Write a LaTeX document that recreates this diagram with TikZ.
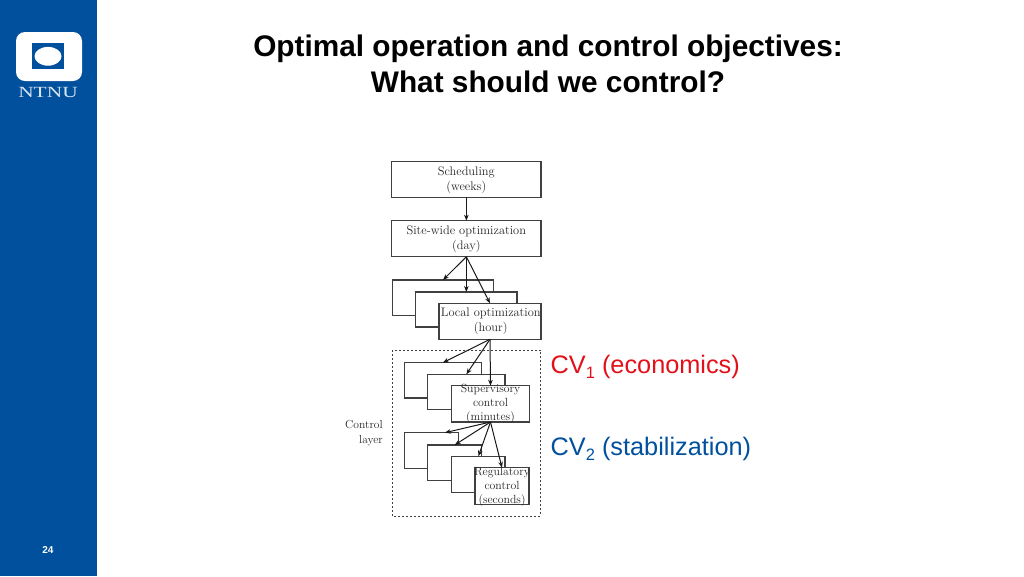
\documentclass[tikz,border=0pt]{standalone}
\usepackage{fontspec}
\usetikzlibrary{arrows.meta}
\setmainfont{Liberation Sans}
\newfontfamily\figfont{Latin Modern Roman}
\newfontfamily\logofont{Liberation Serif}
\definecolor{ntnublue}{HTML}{00509E}
\definecolor{cvred}{HTML}{E3101A}
\definecolor{figgray}{HTML}{404040}
\tikzset{
  layerbox/.style={draw=figgray, line width=1.1pt, fill=white, inner sep=0pt, outer sep=0pt},
  layertext/.style={text=black!85, font=\figfont\fontsize{12.4}{15}\selectfont, align=center, inner sep=0pt},
  titletext/.style={font=\bfseries\fontsize{29.8}{36}\selectfont, align=center, inner sep=0pt},
  cvtext/.style={font=\fontsize{25.3}{28}\selectfont, anchor=base west, inner sep=0pt},
  flow/.style={-{Stealth[length=6pt,width=4.6pt]}, color=black!90, line width=1pt},
}
\newcommand{\cvsub}[1]{\raisebox{-0.22em}{\fontsize{16.5}{18}\selectfont #1}}
\newcommand{\drawboxes}[1] {
  \foreach \name/\xa/\ya/\xb/\yb in #1 {
    \node[layerbox, minimum width={\xb-\xa}, minimum height={\yb-\ya}] (\name)
      at ({(\xa+\xb)/2},{(\ya+\yb)/2}) {};
  }
}
\begin{document}
\begin{tikzpicture}[x=1pt, y=-1pt]
  \useasboundingbox (0,0) rectangle (1024,576);
  % side bar and logo
  \fill[ntnublue] (0,0) rectangle (97,576);
  \fill[white, rounded corners=9pt] (16,32) rectangle (82,81);
  \fill[ntnublue] (32,43) rectangle (64,69);
  \fill[white] (48,56.3) ellipse (13.5 and 9.4);
  \node[text=white!85!ntnublue, font=\logofont\fontsize{15.5}{16}\selectfont, xscale=1.38, inner sep=0pt] (logo) at (48,92) {NTNU};
  \node[text=white, font=\bfseries\fontsize{10}{12}\selectfont, inner sep=0pt] (pagenum) at (48,549.5) {24};

  \node[titletext] (title) at (548,63.5) {Optimal operation and control objectives:\\What should we control?};

  % stacks of layers, back to front
  \draw[figgray, dash pattern=on 2pt off 2pt, line width=1pt] (392.3,350) rectangle (540.7,516);
  \drawboxes{{sched/391.7/161.3/541/197.3, site/391.7/220.7/541/256.7}}
  \drawboxes{{locala/392.3/280/493.7/315.3, localb/415.7/292/517/327, localc/439/303.3/541/339.3}}
  \drawboxes{{supa/404.3/362.7/481.3/398, supb/427.7/374.3/505/409.7, supc/451.7/385.7/529.3/422}}
  \drawboxes{{rega/404.3/432.7/458.3/468.7, regb/427.7/445/481.7/480.5, regc/451.7/456.3/505/492.3, regd/475/467.7/529/504.3}}

  \node[layertext] (schedtext) at (466.3,180) {Scheduling\\(weeks)};
  \node[layertext] (sitetext) at (466.3,239.5) {Site-wide optimization\\(day)};
  \node[layertext] (localtext) at (490.8,321.5) {Local optimization\\(hour)};
  \node[layertext, font=\figfont\fontsize{11.8}{14}\selectfont] (suptext) at (490.5,404) {Supervisory\\control\\(minutes)};
  \node[layertext, font=\figfont\fontsize{11.8}{14}\selectfont] (regtext) at (502,486.5) {Regulatory\\control\\(seconds)};
  \node[layertext, align=right, anchor=east, font=\figfont\fontsize{11.6}{15}\selectfont] (ctrltext) at (383,433) {Control\\layer};

  \draw[flow] (sched) -- (site);
  \foreach \to in {locala,localb,localc} \draw[flow] (site.south) -- (\to.north);
  \foreach \to in {supa,supb,supc} \draw[flow] (localc.south) -- (\to.north);
  \foreach \to in {regb,regc,regd} \draw[flow] (supc.south) -- (\to.north);
  \draw[flow] (supc.south) -- ([xshift=13.5pt]rega.north);

  \node[cvtext, text=cvred] (cvone) at (550.5,373) {CV\cvsub{1} (economics)};
  \node[cvtext, text=ntnublue] (cvtwo) at (550.5,455) {CV\cvsub{2} (stabilization)};
\end{tikzpicture}
\end{document}
